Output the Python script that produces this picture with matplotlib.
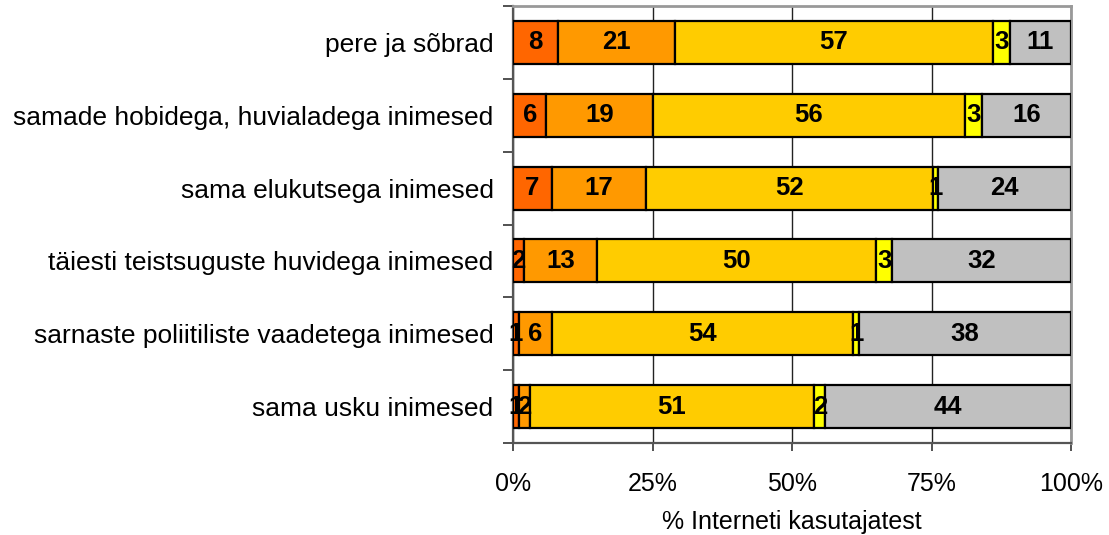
import matplotlib
matplotlib.use("Agg")
import matplotlib.pyplot as plt
import numpy as np

categories = [
    "pere ja sõbrad",
    "samade hobidega, huvialadega inimesed",
    "sama elukutsega inimesed",
    "täiesti teistsuguste huvidega inimesed",
    "sarnaste poliitiliste vaadetega inimesed",
    "sama usku inimesed",
]
seg1 = [8, 6, 7, 2, 1, 1]
seg2 = [21, 19, 17, 13, 6, 2]
seg3 = [57, 56, 52, 50, 54, 51]
seg4 = [3, 3, 1, 3, 1, 2]
seg5 = [11, 16, 24, 32, 38, 44]
colors = ["#FF6600", "#FF9900", "#FFCC00", "#FFFF00", "#C0C0C0"]
xticklabels = ["0%", "25%", "50%", "75%", "100%"]
xlabel = "% Interneti kasutajatest"

plt.rcParams['font.family'] = ['Liberation Sans', 'DejaVu Sans']

fig = plt.figure(figsize=(11.09, 5.35), dpi=100)
ax = fig.add_axes([513/1109, 1-443/535, (1071-513)/1109, (443-6)/535])

series = np.array([seg1, seg2, seg3, seg4, seg5], dtype=float)
totals = series.sum(axis=0)
pct = series / totals * 100
n = len(categories)
y = np.arange(n)[::-1]
left = np.zeros(n)
for i in range(5):
    ax.barh(y, pct[i], left=left, height=0.59, color=colors[i],
            edgecolor="black", linewidth=1.6, zorder=3)
    for j in range(n):
        ax.text(left[j] + pct[i][j] / 2, y[j], str(int(series[i][j])),
                ha="center", va="center", fontsize=18.5, fontweight="bold", zorder=4)
    left += pct[i]

ax.set_xlim(0, 100)
ax.set_ylim(-0.5, n - 0.5)
ax.set_xticks([0, 25, 50, 75, 100])
ax.set_xticklabels(xticklabels, fontsize=18)
ax.xaxis.grid(True, color="#222222", linewidth=1.0, zorder=1)
ax.set_axisbelow(True)
ax.set_yticks(y)
ax.set_yticklabels(categories, fontsize=19)
ax.set_yticks(np.arange(-0.5, n, 1), minor=True)
ax.tick_params(axis="y", which="major", length=0, pad=14)
ax.tick_params(axis="y", which="minor", length=7, width=1.2, direction="out", color="#333333")
ax.tick_params(axis="x", length=6, width=1.2, direction="out", pad=15, color="#333333")
ax.set_xlabel(xlabel, fontsize=18, labelpad=10)
for s in ["top", "right"]:
    ax.spines[s].set_linewidth(2)
    ax.spines[s].set_color("#999999")
for s in ["left", "bottom"]:
    ax.spines[s].set_linewidth(1.6)
    ax.spines[s].set_color("#555555")

fig.savefig("out.png", dpi=100)
